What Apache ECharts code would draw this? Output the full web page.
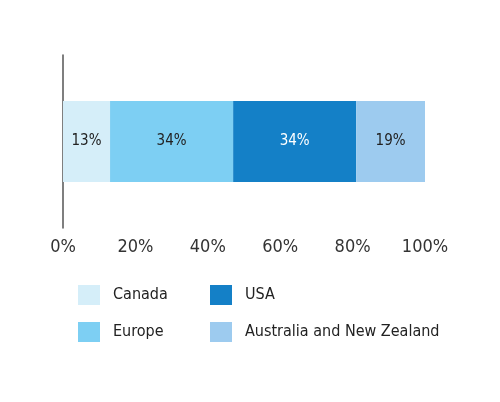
<!DOCTYPE html>
<html>
<head>
<meta charset="utf-8">
<script src="https://cdn.jsdelivr.net/npm/echarts@6/dist/echarts.min.js"></script>
<style>html,body{margin:0;background:#fff}#main{width:500px;height:402px}</style>
</head>
<body>
<div id="main"></div>
<script>
// share of total, per region
const regions = ['Canada', 'Europe', 'USA', 'Australia and New Zealand'];
const shares = [13, 34, 34, 19];
const colors = ['#d5eef9', '#7dcff3', '#1480c7', '#9dcbef'];
const labelColors = ['#222', '#222', '#fff', '#222'];
const tickLabels = ['0%', '20%', '40%', '60%', '80%', '100%'];

const font = "'Liberation Sans Narrow', 'DejaVu Sans Condensed', sans-serif";

let myChart = echarts.init(document.getElementById('main'));

const series = regions.map((r, i) => ({
    name: r,
    type: 'bar',
    stack: 'all',
    barWidth: 81,
    data: [shares[i]],
    itemStyle: { color: colors[i] },
    label: {
        show: true,
        formatter: '{c}%',
        color: labelColors[i],
        fontFamily: font,
        fontSize: 15
    }
}));

const legendBase = {
    orient: 'vertical',
    top: 280,
    itemWidth: 22,
    itemHeight: 20,
    itemGap: 17,
    icon: 'rect',
    textStyle: { fontFamily: font, fontSize: 16, color: '#222', padding: [0, 0, 0, 8] }
};

myChart.setOption({
    animation: false,
    grid: { left: 63, right: 75, top: 55, bottom: 174 },
    xAxis: {
        type: 'value',
        min: 0, max: 100, interval: 20,
        axisLine: { show: false },
        axisTick: { show: false },
        splitLine: { show: false },
        axisLabel: {
            formatter: v => tickLabels[v / 20],
            fontFamily: font, fontSize: 18, color: '#333', margin: 10
        }
    },
    yAxis: {
        type: 'category',
        data: [''],
        axisLine: { show: true, lineStyle: { color: '#555', width: 1.5 } },
        axisTick: { show: false },
        axisLabel: { show: false }
    },
    legend: [
        Object.assign({ left: 73, data: ['Canada', 'Europe'] }, legendBase),
        Object.assign({ left: 205, data: ['USA', 'Australia and New Zealand'] }, legendBase)
    ],
    series: series
});
</script>
</body>
</html>
